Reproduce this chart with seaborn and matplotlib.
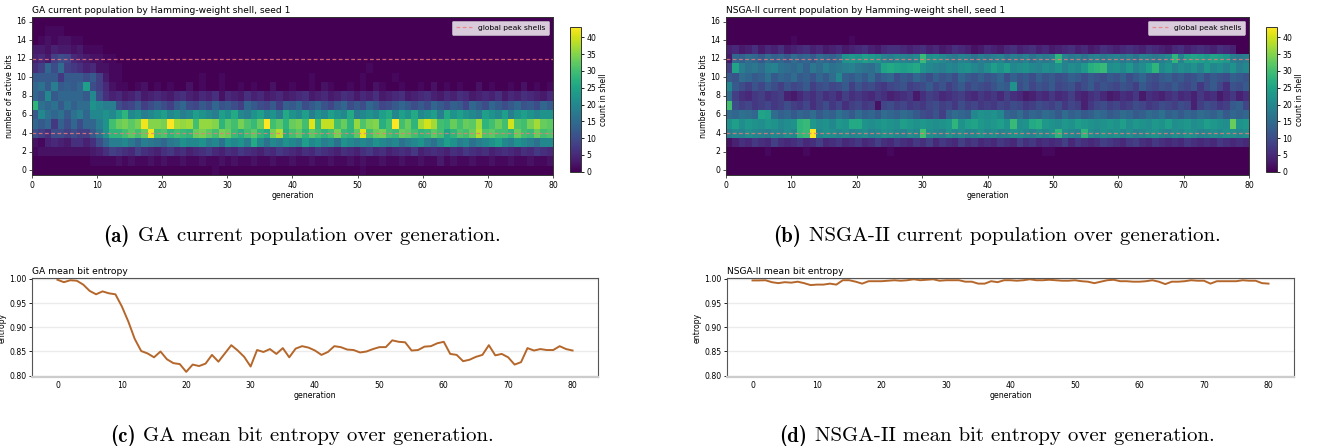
import matplotlib
matplotlib.use("Agg")
import matplotlib.pyplot as plt
import numpy as np
import pandas as pd
import seaborn as sns

# ---------------------------------------------------------------- data
GENERATIONS = list(range(81))
SHELLS = list(range(17))
X_TICKS = [0, 10, 20, 30, 40, 50, 60, 70, 80]
Y_TICKS = [0, 2, 4, 6, 8, 10, 12, 14, 16]
PEAK_SHELLS = [4, 12]
CBAR_TICKS = [0, 5, 10, 15, 20, 25, 30, 35, 40]
VMAX = 43

# GA: count of individuals per Hamming-weight shell, per generation (0..80)
GA_S00 = [0,0,0,0,0,0,0,0,0,0, 0,0,0,0,0,0,0,0,0,0, 0,0,0,0,0,0,0,0,1,0,
          0,0,0,0,0,0,0,0,0,0, 0,0,0,0,0,0,0,0,0,0, 0,1,0,0,0,0,0,0,0,0,
          0,0,0,0,0,0,0,0,0,0, 0,0,0,0,0,0,0,0,0,0, 0]
GA_S01 = [0,0,0,0,0,0,0,0,0,1, 1,1,1,2,1,2,1,1,2,1, 2,1,1,2,1,1,2,1,1,2,
          1,2,1,1,2,1,1,2,1,1, 2,1,1,2,1,1,2,1,1,2, 1,2,1,1,2,1,1,2,1,1,
          2,1,1,3,1,2,1,1,2,1, 1,2,1,1,2,1,1,2,1,1, 2]
GA_S02 = [1,2,2,2,2,2,2,2,2,3, 4,6,8,7,6,5,8,6,5,4, 6,7,5,6,4,5,6,7,5,4,
          6,5,7,6,5,4,6,5,7,6, 5,4,6,5,7,6,5,4,6,5, 4,6,7,5,6,4,5,6,5,7,
          4,5,6,5,4,6,5,7,6,5, 6,4,5,6,5,4,6,5,7,6, 5]
GA_S03 = [2,1,4,5,4,3,6,6,4,6, 10,14,18,18,20,17,14,18,17,16, 14,17,18,22,20,20,22,18,20,16,
          22,20,22,18,26,20,16,20,18,22, 20,18,24,20,22,18,20,16,22,20, 18,20,18,22,20,18,20,16,18,20,
          22,18,16,20,24,22,18,20,16,18, 20,22,24,20,18,22,20,18,16,20, 20]
GA_S04 = [10,8,6,10,10,8,10,8,8,12, 16,22,28,28,30,32,30,33,42,30, 31,28,30,29,28,33,34,32,30,34,
          33,29,27,30,32,28,26,34,38,27, 30,32,28,32,30,28,30,34,29,28, 32,41,30,33,34,30,29,33,32,30,
          28,29,32,30,25,28,31,30,33,38, 31,32,30,30,28,33,30,29,33,30, 31]
GA_S05 = [14,12,14,7,13,10,14,10,14,14, 18,22,30,33,34,32,34,42,35,35, 34,43,37,36,37,30,36,36,35,28,
          32,30,34,31,29,33,43,30,32,28, 33,34,30,41,29,39,39,30,33,28, 36,31,34,35,27,30,43,30,33,28,
          37,40,37,30,29,33,30,33,32,37, 28,30,33,30,40,31,30,34,37,33, 32]
GA_S06 = [12,20,16,14,16,12,16,18,14,20, 20,22,20,24,28,20,22,18,20,22, 24,20,22,18,20,24,22,20,18,24,
          22,26,20,18,22,24,20,22,18,26, 22,20,24,18,22,20,24,22,20,26, 18,20,22,20,24,26,20,24,22,26,
          20,22,24,18,26,22,24,22,20,18, 24,22,20,24,18,22,24,22,20,22, 22]
GA_S07 = [28,16,14,16,12,16,13,15,15,22, 20,18,18,10,8,9,12,8,10,12, 10,8,12,14,10,9,12,10,14,11,
          12,10,8,14,12,10,9,12,8,13, 12,14,10,12,14,11,9,12,14,10, 12,10,14,12,9,10,12,14,12,10,
          12,10,14,12,10,13,12,9,14,12, 10,14,12,10,12,14,11,12,10,14, 12]
GA_S08 = [14,12,20,12,14,14,14,14,12,20, 10,6,4,5,3,4,6,3,4,5, 4,3,5,6,4,3,5,4,6,2,
          5,4,3,6,4,5,3,4,5,3, 4,5,6,3,4,5,3,4,6,5, 3,5,4,6,3,4,5,6,3,4,
          5,6,4,3,5,4,6,5,3,4, 5,4,6,3,5,4,6,5,4,3, 5]
GA_S09 = [14,16,12,18,12,13,12,14,24,10, 8,5,2,1,1,0,1,2,0,1, 0,1,0,0,2,0,1,0,0,1,
          0,0,1,0,1,0,0,2,0,0, 1,0,0,1,0,2,1,0,0,1, 0,1,0,2,1,0,0,1,0,0,
          1,0,2,0,1,0,1,0,0,2, 0,1,0,0,1,0,2,0,1,0, 1]
GA_S10 = [12,12,12,12,7,12,12,12,10,12, 8,3,1,1,0,0,0,0,0,0, 0,0,0,0,0,0,1,0,0,1,
          0,0,0,0,0,0,0,0,0,0, 0,0,0,1,0,0,0,0,0,0, 0,1,0,0,0,0,1,0,0,0,
          0,0,0,0,0,0,0,0,0,0, 0,0,0,0,0,0,0,0,0,0, 0]
GA_S11 = [6,8,14,10,15,8,7,6,4,5, 2,2,1,1,0,0,0,0,0,0, 0,0,0,0,0,0,0,0,0,0,
          0,0,0,0,0,0,0,0,0,0, 0,0,0,0,0,0,0,0,0,0, 0,0,1,0,0,0,0,0,0,0,
          0,0,0,0,0,0,0,0,0,0, 0,0,0,0,0,0,0,0,0,0, 0]
GA_S12 = [4,5,3,8,10,9,5,4,3,2, 2,1,1,0,0,0,0,0,0,0, 0,0,0,0,0,0,0,0,0,0,
          0,0,0,0,0,0,0,0,0,0, 0,0,0,0,0,0,0,0,0,0, 0,0,0,0,0,0,0,0,0,0,
          0,0,0,0,0,0,0,0,0,0, 0,0,0,0,0,0,0,0,0,0, 0]
GA_S13 = [3,3,2,4,3,3,2,3,1,1, 1,0,0,0,0,0,0,0,0,0, 0,0,0,0,0,0,0,0,0,0,
          0,0,0,0,0,0,0,0,0,0, 0,0,0,0,0,0,0,0,0,0, 0,0,0,0,0,0,0,0,0,0,
          0,0,0,0,0,0,0,0,0,0, 0,0,0,0,0,0,0,0,0,0, 0]
GA_S14 = [0,1,2,1,2,2,1,1,0,0, 0,0,0,0,0,0,0,0,0,0, 0,0,0,0,0,0,0,0,0,0,
          0,0,0,0,0,0,0,0,0,0, 0,0,0,0,0,0,0,0,0,0, 0,0,0,0,0,0,0,0,0,0,
          0,0,0,0,0,0,0,0,0,0, 0,0,0,0,0,0,0,0,0,0, 0]
GA_S15 = [0,0,1,1,1,0,0,0,0,0, 0,0,0,0,0,0,0,0,0,0, 0,0,0,0,0,0,0,0,0,0,
          0,0,0,0,0,0,0,0,0,0, 0,0,0,0,0,0,0,0,0,0, 0,0,0,0,0,0,0,0,0,0,
          0,0,0,0,0,0,0,0,0,0, 0,0,0,0,0,0,0,0,0,0, 0]
GA_S16 = [0,0,0,0,0,0,0,0,0,0, 0,0,0,0,0,0,0,0,0,0, 0,0,0,0,0,0,0,0,0,0,
          0,0,0,0,0,0,0,0,0,0, 0,0,0,0,0,0,0,0,0,0, 0,0,0,0,0,0,0,0,0,0,
          0,0,0,0,0,0,0,0,0,0, 0,0,0,0,0,0,0,0,0,0, 0]

# NSGA-II: count of individuals per Hamming-weight shell, per generation (0..80)
NS_S00 = GA_S16
NS_S01 = GA_S16
NS_S02 = [0,0,0,0,0,0,1,0,0,0, 0,0,1,0,0,0,0,0,0,0, 0,0,0,0,0,1,0,0,0,0,
          0,0,0,0,0,0,0,0,0,0, 0,0,0,0,0,0,0,0,0,1, 1,0,0,0,0,0,0,0,0,0,
          0,0,0,0,0,0,0,0,0,0, 0,0,0,0,0,0,0,0,0,0, 0]
NS_S03 = [2,4,6,5,7,6,5,8,6,5, 6,7,5,6,8,5,6,7,5,6, 7,5,6,8,6,5,7,6,5,7,
          6,8,5,7,6,5,8,6,7,5, 6,5,7,6,5,8,6,7,5,6, 5,6,8,5,7,6,5,6,8,7,
          6,5,7,8,6,5,7,6,5,6, 5,7,6,5,6,5,7,6,5,6, 5]
NS_S04 = [18,20,19,21,20,19,18,20,19,21, 20,28,29,43,20,22,21,20,21,19, 20,21,19,20,22,21,20,19,21,20,
          30,21,20,19,22,20,21,19,20,22, 20,21,19,20,22,21,20,19,21,20, 22,28,21,20,19,28,21,20,22,21,
          22,20,21,19,20,21,22,20,19,21, 20,22,21,19,20,21,20,22,21,20, 21]
NS_S05 = [22,24,21,23,22,21,23,22,20,21, 22,28,29,23,21,22,20,23,22,26, 26,22,21,22,23,22,21,24,23,22,
          23,22,21,22,23,28,22,24,25,23, 22,23,24,22,29,21,22,26,27,23, 22,21,23,22,24,23,22,21,22,23,
          22,24,21,23,22,21,23,22,24,21, 22,23,21,22,24,23,22,21,33,22, 23]
NS_S06 = [15,14,16,15,14,25,24,15,13,14, 12,14,13,15,12,14,13,16,14,12, 15,13,14,12,15,14,13,15,14,12,
          10,9,11,8,13,15,14,13,20,22, 21,22,20,14,13,15,12,14,13,15, 14,12,15,13,14,12,13,15,14,12,
          13,15,14,12,13,15,14,16,13,14, 12,14,13,15,14,13,15,12,14,13, 14]
NS_S07 = [30,10,8,9,7,8,9,7,8,10, 8,7,9,6,8,10,7,9,6,8, 9,7,8,2,9,10,8,9,7,8,
          7,9,10,8,9,7,10,8,9,7, 8,7,9,8,10,9,7,8,10,9, 8,10,7,9,8,4,7,9,10,8,
          9,7,8,10,9,7,8,10,9,8, 10,9,4,8,10,9,7,8,12,13, 9]
NS_S08 = [15,8,6,5,7,8,6,7,8,4, 3,5,7,6,8,6,7,5,8,6, 7,6,5,7,6,4,5,6,7,3,
          6,8,7,5,6,7,8,6,5,7, 6,7,5,8,6,5,3,4,6,5, 7,5,6,8,5,4,6,7,5,3,
          4,6,5,7,3,6,5,4,6,7, 5,6,4,7,5,6,3,5,7,4, 6]
NS_S09 = [20,12,10,8,11,9,12,10,8,11, 9,10,12,8,10,11,9,10,12,8, 11,9,10,8,7,9,10,11,8,9,
          10,12,9,11,8,10,12,9,11,10, 9,11,13,12,22,10,12,9,11,10, 12,9,10,11,8,10,12,9,11,10,
          9,11,10,8,12,10,9,11,10,12, 10,9,11,7,10,12,9,6,11,10, 12]
NS_S10 = [12,11,15,14,12,13,16,12,14,13, 15,12,13,11,14,12,15,20,13,12, 14,12,15,11,13,14,10,12,11,14,
          12,10,13,11,12,10,14,12,11,13, 11,12,14,10,13,11,12,10,13,11, 12,10,11,13,12,10,12,11,10,12,
          11,13,10,12,14,11,10,12,13,11, 12,10,11,13,10,12,11,10,13,12, 11]
NS_S11 = [8,25,18,16,17,15,18,19,16,15, 14,16,13,17,15,18,16,17,18,19, 17,16,15,18,25,26,25,24,25,26,
          22,20,19,18,20,19,21,22,20,18, 21,24,22,24,20,21,22,20,19,21, 20,22,19,21,20,23,27,28,29,21,
          22,20,23,19,21,24,28,20,22,19, 21,20,22,19,23,20,21,19,22,18, 20]
NS_S12 = [3,14,13,15,14,12,15,13,14,12, 15,13,14,12,15,14,13,15,22,23, 22,24,23,22,19,18,20,19,18,20,
          29,21,22,20,18,17,19,18,16,18, 17,18,19,16,18,17,19,16,18,17, 18,28,19,17,18,16,18,19,17,18,
          19,17,18,16,19,18,17,18,20,28, 19,24,25,24,23,25,24,23,18,17, 18]
NS_S13 = [4,5,3,4,6,3,5,4,6,3, 4,5,6,4,5,3,4,5,3,4, 5,6,4,3,5,6,6,5,4,5,
          6,4,5,3,4,6,5,4,2,3, 5,4,3,5,6,4,5,6,4,5, 3,4,5,6,4,5,3,4,6,5,
          4,5,6,5,4,6,5,4,3,5, 6,4,5,6,5,4,6,5,4,0, 0]
NS_S14 = [0,0,0,0,0,0,0,0,0,0, 1,0,0,0,0,0,0,0,0,1, 0,0,0,0,0,0,0,0,0,0,
          0,0,0,0,0,0,0,0,0,0, 0,0,0,0,0,0,0,0,0,0, 0,0,0,0,0,0,0,0,0,0,
          0,0,0,0,0,0,0,0,0,0, 0,0,0,0,0,0,0,0,0,0, 0]
NS_S15 = GA_S16
NS_S16 = GA_S16

GA_SHELL_ROWS = [GA_S00, GA_S01, GA_S02, GA_S03, GA_S04, GA_S05, GA_S06, GA_S07, GA_S08,
                 GA_S09, GA_S10, GA_S11, GA_S12, GA_S13, GA_S14, GA_S15, GA_S16]
NS_SHELL_ROWS = [NS_S00, NS_S01, NS_S02, NS_S03, NS_S04, NS_S05, NS_S06, NS_S07, NS_S08,
                 NS_S09, NS_S10, NS_S11, NS_S12, NS_S13, NS_S14, NS_S15, NS_S16]

# mean bit entropy per generation
GA_ENTROPY = [0.998, 0.993, 0.997, 0.996, 0.988, 0.975, 0.968, 0.974, 0.970, 0.968,
              0.943, 0.912, 0.876, 0.851, 0.846, 0.838, 0.850, 0.834, 0.826, 0.824,
              0.808, 0.823, 0.820, 0.825, 0.843, 0.829, 0.846, 0.863, 0.852, 0.839,
              0.819, 0.853, 0.849, 0.855, 0.845, 0.857, 0.838, 0.856, 0.861, 0.858,
              0.852, 0.843, 0.849, 0.861, 0.859, 0.854, 0.853, 0.848, 0.850, 0.855,
              0.859, 0.859, 0.873, 0.870, 0.869, 0.852, 0.853, 0.860, 0.861, 0.867,
              0.870, 0.845, 0.843, 0.830, 0.833, 0.839, 0.843, 0.863, 0.842, 0.845,
              0.838, 0.823, 0.828, 0.857, 0.852, 0.855, 0.853, 0.853, 0.861, 0.855,
              0.852]
NS_ENTROPY = [0.9966, 0.9966, 0.997, 0.993, 0.991, 0.993, 0.992, 0.994, 0.991, 0.987,
              0.988, 0.988, 0.990, 0.988, 0.997, 0.997, 0.994, 0.990, 0.995, 0.995,
              0.995, 0.996, 0.997, 0.996, 0.997, 0.999, 0.997, 0.998, 0.999, 0.996,
              0.997, 0.997, 0.997, 0.994, 0.994, 0.990, 0.990, 0.995, 0.993, 0.997,
              0.997, 0.996, 0.997, 0.999, 0.997, 0.997, 0.998, 0.997, 0.996, 0.996,
              0.997, 0.995, 0.994, 0.991, 0.994, 0.997, 0.998, 0.995, 0.995, 0.994,
              0.994, 0.995, 0.997, 0.994, 0.989, 0.994, 0.994, 0.995, 0.997, 0.996,
              0.996, 0.990, 0.995, 0.995, 0.995, 0.995, 0.997, 0.996, 0.996, 0.991,
              0.990]
ENTROPY_YTICKS = [0.80, 0.85, 0.90, 0.95, 1.00]

HEAT_TITLES = ["GA current population by Hamming-weight shell, seed 1",
               "NSGA-II current population by Hamming-weight shell, seed 1"]
LINE_TITLES = ["GA mean bit entropy", "NSGA-II mean bit entropy"]
CAPTION_TAGS = ["(a)", "(b)", "(c)", "(d)"]
CAPTION_TEXTS = ["GA current population over generation.",
                 "NSGA-II current population over generation.",
                 "GA mean bit entropy over generation.",
                 "NSGA-II mean bit entropy over generation."]

# ---------------------------------------------------------------- style
plt.rcParams["font.family"] = ["DejaVu Sans"]
TITLE_FS = 6.6
LABEL_FS = 5.6
TICK_FS = 5.6
CAPTION_FS = 15.0
LINE_COLOR = "#b5672b"
PEAK_COLOR = "#f07a7a"

W, H = 1317, 446
fig = plt.figure(figsize=(W / 100, H / 100), dpi=100)


def frac(x0, y0, x1, y1):
    return [x0 / W, 1 - y1 / H, (x1 - x0) / W, (y1 - y0) / H]


HEAT_AX = [frac(32, 17, 553, 175), frac(726, 17, 1249, 175)]
CBAR_AX = [frac(569.5, 27.3, 580.7, 171.7), frac(1265.7, 27.3, 1276.8, 171.7)]
LINE_AX = [frac(31.7, 278.3, 598.3, 376.7), frac(726.7, 278.3, 1294.3, 376.7)]
CAP_POS = [(302, 236), (997, 236), (302, 436), (997, 436)]


def draw_heat(rect, crect, rows, title):
    ax = fig.add_axes(rect)
    cax = fig.add_axes(crect)
    mat = pd.DataFrame(rows[::-1], index=SHELLS[::-1], columns=GENERATIONS)
    sns.heatmap(mat, ax=ax, cbar_ax=cax, cmap="viridis", vmin=0, vmax=VMAX,
                cbar_kws={"ticks": CBAR_TICKS})
    ncol = len(GENERATIONS)
    span = GENERATIONS[-1] - GENERATIONS[0]
    ax.set_xticks([g * ncol / span for g in X_TICKS])
    ax.set_xticklabels([str(g) for g in X_TICKS], rotation=0, fontsize=TICK_FS)
    top = SHELLS[-1]
    ax.set_yticks([top - s + 0.5 for s in Y_TICKS])
    ax.set_yticklabels([str(s) for s in Y_TICKS], rotation=0, fontsize=TICK_FS)
    for i, s in enumerate(PEAK_SHELLS):
        ax.axhline(top - s + 0.5, color=PEAK_COLOR, ls="--", lw=0.9, alpha=0.8,
                   dashes=(3, 2), label="global peak shells" if i == 0 else None)
    leg = ax.legend(loc="upper right", fontsize=5.4, frameon=True, handlelength=2.2,
                    borderpad=0.5, framealpha=0.8)
    leg.get_frame().set_linewidth(0.5)
    ax.set_xlabel("generation", fontsize=LABEL_FS, labelpad=1)
    ax.set_ylabel("number of active bits", fontsize=LABEL_FS, labelpad=2)
    ax.set_title(title, loc="left", fontsize=TITLE_FS, pad=3)
    ax.tick_params(length=2.5, width=0.6, pad=1.5, color="#333333")
    for sp in ax.spines.values():
        sp.set_visible(True)
        sp.set_color("#333333")
        sp.set_linewidth(0.7)
    cax.tick_params(labelsize=TICK_FS, length=2.5, width=0.6, pad=1.5)
    cax.set_ylabel("count in shell", fontsize=LABEL_FS, labelpad=2)
    cb = ax.collections[0].colorbar
    cb.outline.set_linewidth(0.7)
    cb.outline.set_edgecolor("#333333")


def draw_line(rect, values, title):
    ax = fig.add_axes(rect)
    sns.lineplot(x=GENERATIONS, y=values, ax=ax, color=LINE_COLOR, linewidth=1.4)
    ax.set_xlim(-4, 84)
    ax.set_ylim(0.798, 1.001)
    ax.set_xticks(X_TICKS)
    ax.set_xticklabels([str(g) for g in X_TICKS], fontsize=TICK_FS)
    ax.set_yticks(ENTROPY_YTICKS)
    ax.set_yticklabels([f"{v:.2f}" for v in ENTROPY_YTICKS], fontsize=TICK_FS)
    ax.yaxis.grid(True, color="#ebebeb", lw=1.0)
    ax.set_axisbelow(True)
    ax.tick_params(axis="x", length=0, pad=3)
    ax.tick_params(axis="y", length=2, width=0.6, pad=1.5)
    ax.set_xlabel("generation", fontsize=LABEL_FS, labelpad=1)
    ax.set_ylabel("entropy", fontsize=LABEL_FS, labelpad=2)
    ax.set_title(title, loc="left", fontsize=TITLE_FS, pad=3)
    for name, sp in ax.spines.items():
        sp.set_color("#555555")
        sp.set_linewidth(0.8)
    ax.spines["bottom"].set_color("#cccccc")
    ax.spines["bottom"].set_linewidth(1.6)


draw_heat(HEAT_AX[0], CBAR_AX[0], GA_SHELL_ROWS, HEAT_TITLES[0])
draw_heat(HEAT_AX[1], CBAR_AX[1], NS_SHELL_ROWS, HEAT_TITLES[1])
draw_line(LINE_AX[0], GA_ENTROPY, LINE_TITLES[0])
draw_line(LINE_AX[1], NS_ENTROPY, LINE_TITLES[1])

# captions: bold tag (cmb10) + roman text (cmr10), centred as one line
renderer = fig.canvas.get_renderer()
gap = 0.38 * CAPTION_FS * 100 / 72
for tag, text, (cx, cy) in zip(CAPTION_TAGS, CAPTION_TEXTS, CAP_POS):
    yf = 1 - cy / H
    t1 = fig.text(0, yf, tag, ha="left", va="center", fontsize=CAPTION_FS, family="cmb10")
    t2 = fig.text(0, yf, text, ha="left", va="center", fontsize=CAPTION_FS, family="cmr10")
    w1 = t1.get_window_extent(renderer).width
    w2 = t2.get_window_extent(renderer).width
    x0 = cx - (w1 + gap + w2) / 2
    t1.set_x(x0 / W)
    t2.set_x((x0 + w1 + gap) / W)

fig.savefig("out.png", dpi=100)
